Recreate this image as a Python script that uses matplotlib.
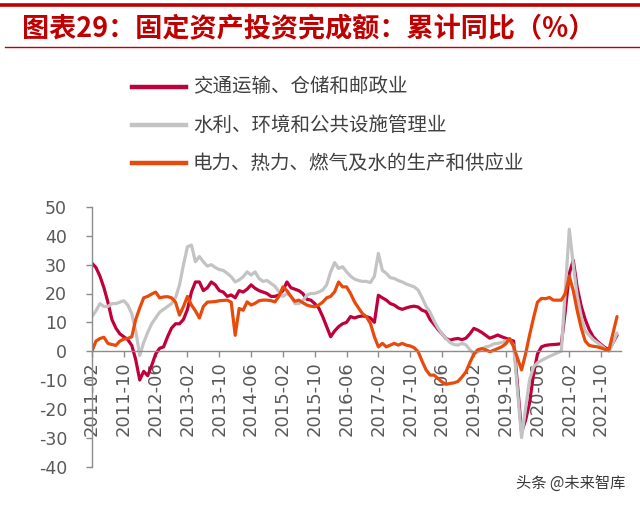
import matplotlib
matplotlib.use("Agg")
import matplotlib.pyplot as plt
from matplotlib.lines import Line2D
import numpy as np
import pandas as pd

plt.rcParams["font.family"] = ["DejaVu Sans", "Noto Sans CJK SC"]
plt.rcParams["axes.unicode_minus"] = False
CJK = ["Noto Sans CJK SC", "DejaVu Sans"]

# ==========================================
# 数据: 固定资产投资完成额 累计同比 (%), 2011-02 ~ 2022-02
# ==========================================
months = pd.period_range("2011-02", "2022-02", freq="M").strftime("%Y-%m").tolist()

transport = [
    30.5, 29, 26, 22, 17, 11, 8, 6, 5, 4, 2, -3,
    -10, -7, -8.5, -5, -1, 1, 1.5, 5, 8, 9.5, 9.5, 11,
    14.5, 20.5, 24, 24, 21, 22, 24, 23, 21, 20.5, 19, 19.5,
    18.5, 21, 20.5, 21.5, 23, 21.8, 21, 20.5, 20, 19, 19, 19.5,
    21, 24, 22, 21.5, 21, 20, 18, 17.7, 16.5, 15, 12, 8.5,
    5, 7, 8.5, 9.5, 10, 12, 11.5, 12, 12.2, 12, 11.5, 10,
    19.4, 18.5, 17.7, 16.5, 16, 15, 14.5, 15, 15.4, 15.6, 15.3, 14.2,
    13.7, 11, 9.3, 7.5, 6, 4.4, 3.8, 4.2, 4.4, 4, 4.5, 6,
    7.9, 7.3, 6.5, 5.5, 4.5, 5, 5.6, 5, 4.5, 4, 3.5, -12,
    -28, -24, -18, -8, -1, 1.5, 2, 2.2, 2.3, 2.4, 2.6, 14,
    27, 31.5, 22, 15.6, 11, 7.5, 5, 3.5, 2.3, 1.2, 0.5, 3,
    5.5,
]
water = [
    12, 14, 16.5, 15.5, 15.5, 16.5, 16.5, 17, 17.5, 16, 13, 7,
    -1.5, 3, 6.5, 9.5, 11.5, 13.5, 14.5, 15.5, 16.5, 18.5, 23, 30,
    36.2, 36.8, 31, 32.8, 31, 29.5, 30, 29, 28.3, 28, 27, 25.8,
    24, 24.7, 25.8, 27.5, 26.4, 27.5, 25.2, 24.2, 24.5, 23.5, 22.5, 20.6,
    19, 20, 19, 16.5, 16.5, 17.5, 19.4, 20, 20, 20.5, 21.2, 23,
    27.5, 30.7, 28.7, 29.3, 27.5, 26, 25, 24.5, 24.2, 24.2, 23.8, 26,
    33.9, 28, 27, 25.5, 25.2, 24.5, 24, 23.3, 22.8, 22.3, 21.2, 18.5,
    15.5, 13.5, 10.5, 8, 6, 4.4, 3, 2.3, 2.1, 2.7, 2.2, 0.5,
    -1, -0.3, 0.8, 1.5, 1.8, 2.5, 2.7, 3, 3.5, 3.8, 2, -14,
    -30, -20, -10, -5.5, -4, -3.2, -2.5, -1.8, -1.2, -0.6, 0, 21,
    42.3, 30, 19, 12, 7, 5.5, 4, 3, 2, 0.8, 0, 3,
    6.3,
]
power = [
    0, 3.5, 4.4, 4.8, 2.7, 2.3, 2, 3.5, 4.2, 4.4, 5, 11,
    15, 18.5, 19, 19.8, 20.5, 18.5, 18.8, 18.9, 18.5, 17, 12.5, 15.5,
    19, 16, 14, 11.5, 15.5, 17, 17.1, 17.2, 17.5, 17.6, 17.7, 17,
    5.5, 14.8, 14.2, 17.1, 16, 16.6, 17.5, 17.7, 17.7, 17.5, 17.1, 19,
    22.3, 21, 19, 17.3, 17.7, 16.8, 16, 15.6, 15.4, 16, 17, 18.5,
    19, 20.6, 24, 22.3, 22.3, 20, 17.1, 15, 13, 11.9, 9.6, 5,
    1.5, 2.7, 1.5, 2.1, 2.7, 2.1, 2.7, 2.1, 1.8, 1.2, -0.2, -3.5,
    -6.5, -8.3, -8.3, -9.5, -10.7, -11.5, -11.2, -11, -10.5, -9, -7.2, -4,
    -1, 0.5, 0.9, 0.5, -0.2, 0.3, 0.9, 1.5, 2.5, 4.4, 1.5, -2.5,
    -6.5, -1, 5.5, 11.5, 17, 18.3, 18.2, 18.6, 17.7, 17.7, 17.7, 20,
    26, 21, 14, 8, 3.5, 2, 1.7, 1.5, 1.1, 0.6, 0.6, 6.3,
    12,
]

labels = ["交通运输、仓储和邮政业", "水利、环境和公共设施管理业", "电力、热力、燃气及水的生产和供应业"]
colors = ["#C0003A", "#C3C3C3", "#E84A0C"]
yticks = [50, 40, 30, 20, 10, 0, -10, -20, -30, -40]

# ==========================================
# 그림
# ==========================================
W, H = 640, 505
fig = plt.figure(figsize=(W / 100, H / 100), dpi=100)
ax = fig.add_axes([92 / W, 1 - 466.5 / H, 529 / W, (466.5 - 207) / H])

# 축 모양을 먼저 잡는다 (set_position 이 눈금을 초기화하므로)
for s in ["top", "right"]:
    ax.spines[s].set_visible(False)
ax.spines["bottom"].set_position(("data", 0))
for s in ["left", "bottom"]:
    ax.spines[s].set_color("#8C8C8C")
    ax.spines[s].set_linewidth(1.0)

x = np.arange(len(months))
lines = []
for series, c in zip([transport, water, power], colors):
    (ln,) = ax.plot(x, series, color=c, lw=2.3, solid_joinstyle="round", solid_capstyle="round")
    lines.append(ln)

ax.set_xlim(0, 133)
ax.set_ylim(-40, 50)
ax.set_yticks(yticks)

tick_pos = x[::8]
ax.set_xticks(tick_pos)
ax.set_xticklabels([months[i] for i in tick_pos])
ax.tick_params(axis="x", direction="out", length=4, width=1, color="#8C8C8C",
               labelsize=13, labelcolor="#595959", pad=3, labelrotation=90)
ax.tick_params(axis="y", direction="out", length=4, width=1, color="#8C8C8C",
               labelsize=12.5, labelcolor="#595959", pad=14)
for t in ax.get_xticklabels():
    t.set_ha("center")
    t.set_va("top")
ax.patch.set_alpha(0)

# 제목과 장식선
title_red = "#C00000"
fig.add_artist(Line2D([0, 1], [1 - 5 / H] * 2, color=title_red, lw=2.6))
fig.add_artist(Line2D([5 / W, 1], [1 - 47 / H] * 2, color=title_red, lw=1.0))
fig.text(22 / W, 1 - 29 / H, "图表29：固定资产投资完成额：累计同比（%）",
         family=CJK, fontsize=19.5, weight="bold", color=title_red, va="center", ha="left")

# 범례 (수동 배치)
for k, (ln, lab) in enumerate(zip(lines, labels)):
    yy = 1 - (87 + 38 * k) / H
    fig.add_artist(Line2D([132 / W, 186 / W], [yy, yy], color=ln.get_color(), lw=3.2))
    fig.text(193 / W, yy, lab, family=CJK, fontsize=14, color="#404040", va="center", ha="left")

# 워터마크
fig.text(625 / W, 1 - 483 / H, "头条 @未来智库", family=CJK, fontsize=11,
         color="#3A3A3A", ha="right", va="center")

fig.savefig("out.png", dpi=100)
